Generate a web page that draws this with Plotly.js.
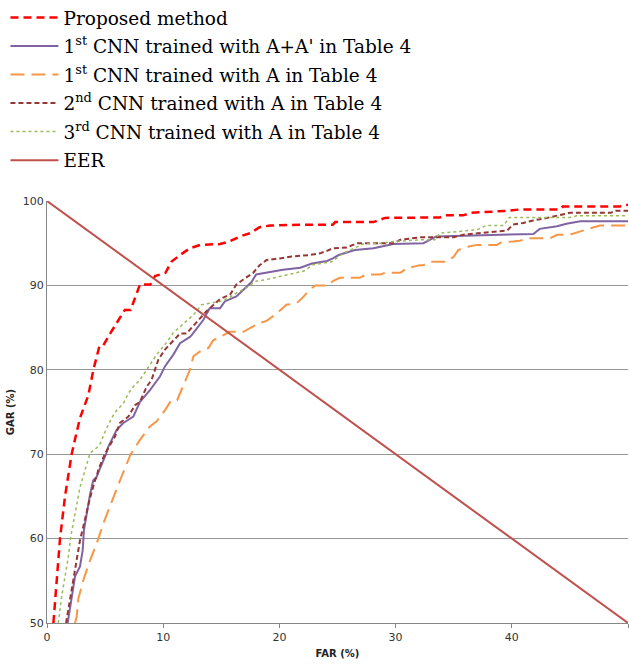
<!DOCTYPE html>
<html>
<head>
<meta charset="utf-8">
<script src="https://cdn.plot.ly/plotly-3.0.1.min.js"></script>
<style>html,body{margin:0;padding:0;background:#fff;}</style>
</head>
<body>
<div id="chart" style="width:629px;height:669px;"></div>
<script>
// Series names
const names = [
  'Proposed method',
  '1<sup>st</sup> CNN trained with A+A\' in Table 4',
  '1<sup>st</sup> CNN trained with A in Table 4',
  '2<sup>nd</sup> CNN trained with A in Table 4',
  '3<sup>rd</sup> CNN trained with A in Table 4',
  'EER'
];

// Proposed method (FAR, GAR)
const propX = [0.55, 0.83, 1.12, 1.55, 1.83, 2.12, 2.4, 2.84, 3.56, 3.99, 4.5, 4.8, 5.57, 6.14, 6.7, 7.2, 7.7, 8.0, 8.9, 9.3, 10.2, 10.7, 11.45, 12.3, 13.2, 14.9, 15.7, 16.6, 17.5, 18.3, 19.2, 22.0, 24.6, 24.8, 28.1, 29.1, 33.8, 34.4, 35.8, 36.5, 39.8, 40.7, 44.1, 44.4, 49.3, 50];
const propY = [50, 55, 60, 65, 67.3, 70, 71.7, 74.3, 77.0, 80.0, 82.75, 82.8, 84.6, 85.9, 87.1, 87.1, 88.9, 90.1, 90.1, 91.1, 91.5, 92.8, 93.6, 94.4, 94.8, 94.9, 95.2, 95.8, 96.2, 96.9, 97.1, 97.2, 97.2, 97.5, 97.5, 98.0, 98.05, 98.3, 98.3, 98.6, 98.85, 99.0, 99.0, 99.36, 99.36, 99.56];

// 1st CNN trained with A+A'
const cnn1aaX = [1.78, 2.12, 2.41, 2.84, 3.07, 3.18, 3.41, 3.7, 3.98, 4.27, 4.5, 5.08, 5.28, 6.0, 6.57, 7.43, 8.0, 8.86, 9.72, 10.15, 10.87, 11.45, 12.3, 12.45, 13.45, 14.0, 14.9, 15.3, 16.3, 16.9, 17.6, 18.0, 19.3, 20.3, 21.8, 22.8, 24.1, 24.6, 25.1, 26.5, 28.1, 29.8, 32.4, 33.5, 41.85, 42.4, 43.9, 44.7, 45.9, 50];
const cnn1aaY = [50, 53.1, 55.5, 56.7, 58.6, 61.0, 63.0, 65.2, 66.9, 67.3, 68.1, 70.0, 70.9, 72.9, 73.7, 74.45, 76.2, 77.6, 79.2, 80.4, 81.8, 83.15, 83.9, 84.1, 85.9, 87.3, 87.3, 88.1, 88.7, 89.5, 90.4, 91.3, 91.6, 91.85, 92.1, 92.6, 92.9, 93.2, 93.6, 94.2, 94.4, 94.9, 95.0, 95.8, 96.1, 96.7, 97.0, 97.3, 97.6, 97.6];

// 1st CNN trained with A
const cnn1aX = [2.41, 2.55, 2.7, 3.13, 3.7, 4.27, 4.85, 5.4, 6.0, 6.4, 7.2, 8.0, 8.86, 9.44, 10.15, 10.7, 11.2, 11.7, 12.3, 12.6, 13.2, 13.9, 14.3, 14.9, 15.7, 16.9, 18.2, 18.9, 19.8, 20.6, 21.5, 22.1, 22.6, 23.1, 24.1, 24.6, 25.2, 26.9, 27.5, 28.7, 29.1, 30.4, 31.0, 32.1, 32.4, 33.0, 34.4, 35.0, 35.4, 36.3, 37.0, 38.7, 39.1, 40.1, 40.7, 41.6, 43.3, 43.9, 45.0, 45.9, 47.0, 47.6, 50];
const cnn1aY = [50, 50.7, 52.9, 55.1, 57.4, 59.4, 61.8, 63.8, 65.8, 67.3, 70.0, 71.7, 73.3, 73.9, 75.2, 76.4, 76.4, 78.0, 80.0, 81.6, 82.2, 82.6, 83.5, 83.9, 84.5, 84.5, 85.5, 85.8, 86.7, 87.7, 87.9, 88.7, 89.5, 90.0, 90.0, 90.5, 90.9, 90.9, 91.3, 91.3, 91.5, 91.5, 92.05, 92.4, 92.4, 92.8, 92.8, 93.4, 94.2, 94.6, 94.8, 94.8, 95.1, 95.2, 95.3, 95.6, 95.6, 96.0, 96.0, 96.4, 96.8, 97.1, 97.1];

// 2nd CNN trained with A
const cnn2X = [1.64, 1.98, 2.26, 2.55, 2.84, 3.12, 3.41, 3.7, 4.13, 4.27, 4.4, 5.0, 5.85, 6.28, 7.0, 7.57, 8.0, 8.58, 9.0, 9.3, 9.58, 10.15, 10.87, 11.45, 12.0, 12.9, 13.7, 14.5, 14.9, 15.75, 16.3, 16.9, 17.75, 18.3, 18.9, 20.05, 20.9, 22.6, 23.5, 24.1, 24.6, 25.8, 26.7, 29.8, 30.4, 32.1, 35.0, 35.8, 38.1, 39.6, 40.1, 41.0, 41.85, 42.7, 45.0, 48.5, 49.0, 50];
const cnn2Y = [50, 52.7, 55.1, 57.5, 59.8, 61.4, 63.2, 64.8, 66.9, 67.3, 68.1, 70.1, 72.1, 73.7, 74.45, 75.8, 76.2, 78.0, 78.8, 80.0, 81.2, 82.4, 83.5, 84.3, 84.3, 85.7, 86.9, 87.9, 88.4, 88.9, 90.1, 90.7, 91.5, 92.4, 93.0, 93.2, 93.4, 93.6, 93.8, 94.1, 94.4, 94.5, 95.0, 95.0, 95.4, 95.7, 95.7, 96.0, 96.3, 96.5, 97.2, 97.4, 97.7, 97.9, 98.6, 98.6, 98.85, 98.85];

// 3rd CNN trained with A
const cnn3X = [0.97, 1.26, 1.55, 1.83, 2.04, 2.32, 2.61, 2.84, 3.1, 3.7, 4.3, 4.6, 5.1, 5.57, 6.0, 6.57, 7.0, 7.43, 8.0, 8.58, 9.0, 9.44, 10.0, 10.44, 10.87, 12.0, 12.6, 13.3, 14.0, 14.9, 15.75, 16.3, 17.2, 18.0, 18.9, 20.05, 21.2, 22.1, 22.9, 23.8, 24.5, 24.9, 25.5, 26.4, 27.2, 28.7, 29.8, 31.0, 32.1, 33.4, 33.8, 35.5, 37.0, 37.8, 39.3, 39.8, 45.0, 45.6, 50];
const cnn3Y = [50, 53.1, 55.5, 57.8, 60.2, 62.2, 64.2, 66.1, 67.3, 70.1, 70.8, 71.3, 73.0, 74.3, 75.2, 76.0, 77.2, 78.0, 78.8, 80.0, 81.0, 81.8, 82.75, 83.5, 84.4, 85.7, 86.5, 87.7, 87.9, 88.1, 88.6, 89.1, 89.75, 90.5, 90.7, 91.05, 91.45, 91.7, 92.45, 92.6, 92.8, 93.2, 93.8, 94.4, 94.9, 95.0, 95.2, 95.3, 95.4, 95.4, 96.2, 96.4, 96.6, 97.1, 97.1, 98.05, 98.05, 98.25, 98.25];

// EER line
const eerX = [0, 5, 10, 15, 20, 25, 30, 35, 40, 45, 50];
const eerY = [100, 95, 90, 85, 80, 75, 70, 65, 60, 55, 50];

const traces = [
  {x: propX, y: propY, name: names[0], legendgroup: 'g0', mode: 'lines', line: {color: '#FF0000', width: 2.5, dash: '8px,5px'}},
  {x: cnn1aaX, y: cnn1aaY, name: names[1], legendgroup: 'g1', mode: 'lines', line: {color: '#8064A2', width: 2}},
  {x: cnn1aX, y: cnn1aY, name: names[2], legendgroup: 'g2', mode: 'lines', line: {color: '#F79646', width: 2, dash: '14px,7px'}},
  {x: cnn2X, y: cnn2Y, name: names[3], legendgroup: 'g3', mode: 'lines', line: {color: '#953735', width: 2, dash: '5px,3px'}},
  {x: cnn3X, y: cnn3Y, name: names[4], legendgroup: 'g4', mode: 'lines', line: {color: '#9BBB59', width: 1.5, dash: 'dot'}},
  {x: eerX, y: eerY, name: names[5], legendgroup: 'g5', mode: 'lines', line: {color: '#C0504D', width: 2}}
];

const axisFont = {family: 'DejaVu Sans, Verdana, sans-serif', size: 11, color: '#333333'};
const layout = {
  width: 629, height: 669,
  margin: {l: 47, r: 1, t: 201, b: 46, pad: 0, autoexpand: false},
  paper_bgcolor: '#ffffff', plot_bgcolor: '#ffffff',
  showlegend: true,
  legend: {
    x: -0.0715, y: 1.479, xanchor: 'left', yanchor: 'top',
    font: {family: 'DejaVu Serif, serif', size: 18.5, color: '#000000'},
    itemwidth: 48, traceorder: 'grouped', tracegroupgap: 1.5, bgcolor: 'rgba(0,0,0,0)'
  },
  xaxis: {
    range: [0, 50], dtick: 10, tick0: 0,
    showline: true, linecolor: '#868686', linewidth: 1,
    ticks: 'outside', ticklen: 4, tickcolor: '#868686',
    showgrid: false, zeroline: false, automargin: false,
    tickfont: axisFont,
    title: {text: 'FAR (%)', font: {family: 'DejaVu Sans, Verdana, sans-serif', size: 10, color: '#222', weight: 'bold'}, standoff: 6}
  },
  yaxis: {
    range: [50, 100], dtick: 10, tick0: 50,
    showline: true, linecolor: '#868686', linewidth: 1,
    ticks: '', showgrid: true, gridcolor: '#969696', gridwidth: 1,
    zeroline: false, automargin: false,
    tickfont: axisFont,
    title: {text: 'GAR (%)', font: {family: 'DejaVu Sans, Verdana, sans-serif', size: 10, color: '#222', weight: 'bold'}, standoff: 6}
  }
};

Plotly.newPlot('chart', traces, layout, {displayModeBar: false, staticPlot: true});
</script>
</body>
</html>
